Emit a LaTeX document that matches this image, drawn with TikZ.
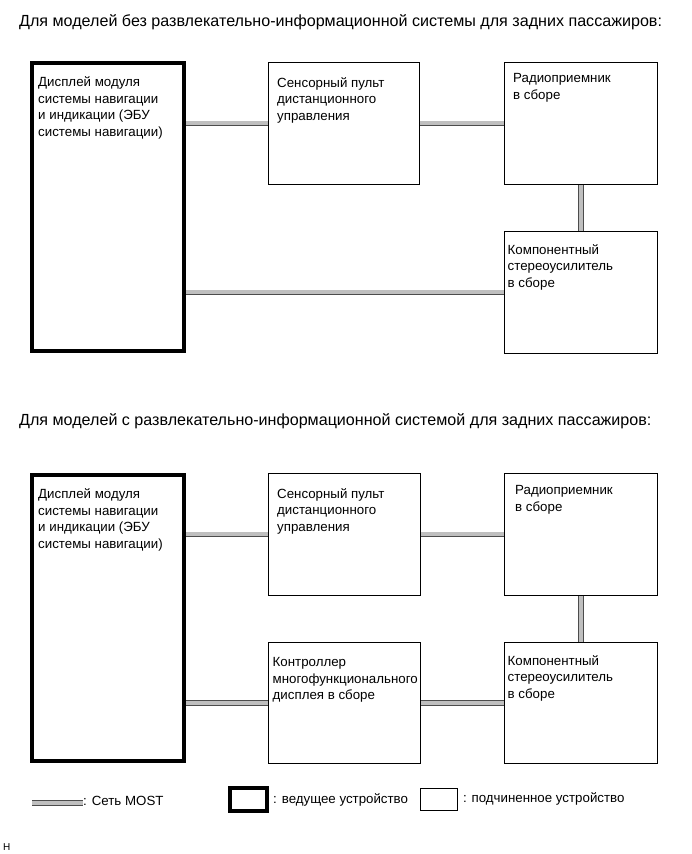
\documentclass[tikz,border=0pt]{standalone}
\usepackage{fontspec}
\setmainfont{Liberation Sans}

\tikzset{
	master/.style={draw, line width=4pt, anchor=north west, inner sep=0pt},
	slave/.style={draw, line width=0.8pt, anchor=north west, inner sep=0pt, minimum width=152, minimum height=122},
	boxtxt/.style={anchor=north west, inner sep=0pt, align=left, font=\fontsize{13.3}{16.7}\selectfont},
	headtxt/.style={anchor=base west, inner sep=0pt, font=\fontsize{16.1}{19}\selectfont},
	keytxt/.style={anchor=west, inner sep=0pt, font=\fontsize{13.3}{16}\selectfont},
	most/.style={draw=black!70, line width=0.8pt, double=black!25, double distance=4pt},
}

\begin{document}
\begin{tikzpicture}[x=1pt, y=-1pt]
			\useasboundingbox (0,0) rectangle (691,854);
			% without rear seat entertainment
			\node[headtxt](head1) at (19,26){Для моделей без развлекательно-информационной системы для задних пассажиров:};
			\node[master, minimum width=152, minimum height=288, label={[boxtxt, xshift=8, yshift=-15.5]north west:{Дисплей модуля\\системы навигации\\и индикации (ЭБУ\\системы навигации)}}](disp1) at (30,61){};
			\node[slave, minimum width=151, label={[boxtxt, xshift=9, yshift=-15]north west:{Сенсорный пульт\\дистанционного\\управления}}](sens1) at (268,62){};
			\node[slave, minimum width=153, label={[boxtxt, xshift=9, yshift=-11]north west:{Радиоприемник\\в сборе}}](radio1) at (504,62){};
			\node[slave, minimum width=153, label={[boxtxt, xshift=3.5, yshift=-13]north west:{Компонентный\\стереоусилитель\\в сборе}}](amp1) at (504,231){};
			\draw[most] (disp1.east |- sens1.west) -- (sens1.west);
			\draw[most] (sens1.east) -- (radio1.west);
			\draw[most] (radio1.south) -- (amp1.north);
			\draw[most] (disp1.east |- amp1.west) -- (amp1.west);

			% with rear seat entertainment
			\node[headtxt](head2) at (19,425){Для моделей с развлекательно-информационной системой для задних пассажиров:};
			\node[master, minimum width=152, minimum height=286, label={[boxtxt, xshift=8, yshift=-15.5]north west:{Дисплей модуля\\системы навигации\\и индикации (ЭБУ\\системы навигации)}}](disp2) at (30,473){};
			\node[slave, minimum width=152, label={[boxtxt, xshift=9, yshift=-15]north west:{Сенсорный пульт\\дистанционного\\управления}}](sens2) at (268,473){};
			\node[slave, minimum width=153, label={[boxtxt, xshift=11, yshift=-12]north west:{Радиоприемник\\в сборе}}](radio2) at (504,473){};
			\node[slave, minimum width=152, minimum height=121, label={[boxtxt, xshift=4.5, yshift=-15]north west:{Контроллер\\многофункционального\\дисплея в сборе}}](ctrl2) at (268,642){};
			\node[slave, minimum width=153, minimum height=121, label={[boxtxt, xshift=3.5, yshift=-13]north west:{Компонентный\\стереоусилитель\\в сборе}}](amp2) at (504,642){};
			\draw[most] (disp2.east |- sens2.west) -- (sens2.west);
			\draw[most] (sens2.east) -- (radio2.west);
			\draw[most] (radio2.south) -- (amp2.north);
			\draw[most] (disp2.east |- ctrl2.west) -- (ctrl2.west);
			\draw[most] (ctrl2.east) -- (amp2.west);

			% legend
			\coordinate (mostkey) at (32,803);
			\node[keytxt](mostlbl) at (83,801){: Сеть MOST};
			\draw[most] (mostkey) -- (mostkey -| mostlbl.west);
			\node[master, minimum width=37, minimum height=23](masterkey) at (228,786){};
			\node[keytxt](masterlbl) at ([xshift=4]masterkey.east){: ведущее устройство};
			\node[slave, minimum width=37, minimum height=22](slavekey) at (420,788){};
			\node[keytxt](slavelbl) at ([xshift=5]slavekey.east){: подчиненное устройство};

			\node[anchor=base west, inner sep=0pt, font=\fontsize{10}{12}\selectfont](figid) at (3,850){H};
			\end{tikzpicture}
\end{document}
